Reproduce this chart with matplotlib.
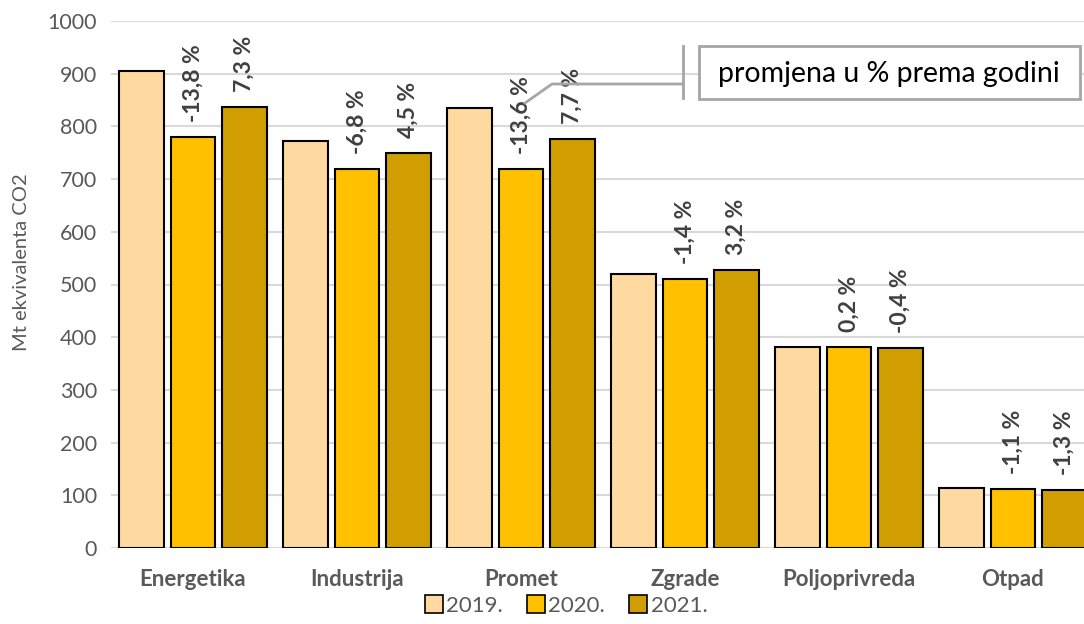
import numpy as np
import matplotlib.pyplot as plt
from matplotlib.lines import Line2D
from matplotlib.patches import Rectangle

plt.rcParams['font.family'] = ['Lato', 'DejaVu Sans']

categories = ["Energetika", "Industrija", "Promet", "Zgrade", "Poljoprivreda", "Otpad"]
years = ["2019.", "2020.", "2021."]
v2019 = [905, 772, 835, 520, 381, 114]
v2020 = [780, 719, 720, 511, 382, 112]
v2021 = [837, 750, 776, 527, 380, 111]
pct2020 = ["-13,8 %", "-6,8 %", "-13,6 %", "-1,4 %", "0,2 %", "-1,1 %"]
pct2021 = ["7,3 %", "4,5 %", "7,7 %", "3,2 %", "-0,4 %", "-1,3 %"]
colors = ["#FFD9A0", "#FFC000", "#D09E00"]

W, H = 1084, 624
fig = plt.figure(figsize=(W / 100, H / 100), dpi=100)
ax = fig.add_axes([111 / W, 76 / H, 973 / W, 527 / H])

x = np.arange(len(categories))
step = 0.314
width = 0.274
series = [v2019, v2020, v2021]
for i, vals in enumerate(series):
    ax.bar(x + (i - 1) * step, vals, width, color=colors[i], edgecolor="black",
           linewidth=1.5, zorder=3, label=years[i])

# percentage labels above 2020 and 2021 bars
off = 15 / 0.527
for i, (vals, labs) in enumerate([(v2020, pct2020), (v2021, pct2021)]):
    for j in range(len(categories)):
        ax.text(x[j] + i * step, vals[j] + off, labs[j], rotation=90,
                ha="center", va="bottom", fontsize=16.5, fontweight="bold",
                color="#404040", zorder=4)

ax.set_xlim(-0.5, 5.5 - 11 / 164)
ax.set_ylim(0, 1000)
ax.set_yticks(np.arange(0, 1001, 100))
ax.set_xticks(x)
ax.set_xticklabels(categories, fontsize=16, fontweight="bold", color="#595959")
ax.tick_params(axis="y", labelsize=15.5, labelcolor="#595959", length=0, pad=10)
ax.tick_params(axis="x", length=0, pad=15)
ax.grid(axis="y", color="#d9d9d9", linewidth=1.5, zorder=0)
for s in ax.spines.values():
    s.set_visible(False)

fig.text(22 / W, 1 - 262 / H, "Mt ekvivalenta CO2", rotation=90, ha="center",
         va="center", fontsize=14.5, color="#595959")

# legend
handles = [Line2D([], [], marker="s", linestyle="none", markersize=13,
                  markerfacecolor=c, markeredgecolor="black", markeredgewidth=1.2)
           for c in colors]
fig.legend(handles, years, loc="center", bbox_to_anchor=(565 / W, 1 - 606 / H),
           ncol=3, frameon=False, fontsize=16, handletextpad=0.05,
           columnspacing=1.0, handlelength=1.0, labelcolor="#595959")

# annotation box and leader line
fig.add_artist(Rectangle((699 / W, 1 - 99 / H), 381 / W, 53 / H,
                         transform=fig.transFigure, facecolor="white",
                         edgecolor="#a6a6a6", linewidth=2, zorder=5))
fig.text(889 / W, 1 - 74 / H, "promjena u % prema godini", ha="center",
         va="center", fontsize=20.5, color="black", zorder=6)
fig.add_artist(Line2D([525 / W, 552 / W, 683 / W],
                      [1 - 103 / H, 1 - 84 / H, 1 - 84 / H],
                      transform=fig.transFigure, color="#a6a6a6", linewidth=2))
fig.add_artist(Line2D([683 / W, 683 / W], [1 - 46 / H, 1 - 98 / H],
                      transform=fig.transFigure, color="#a6a6a6", linewidth=2))

plt.savefig("out.png", dpi=100)
